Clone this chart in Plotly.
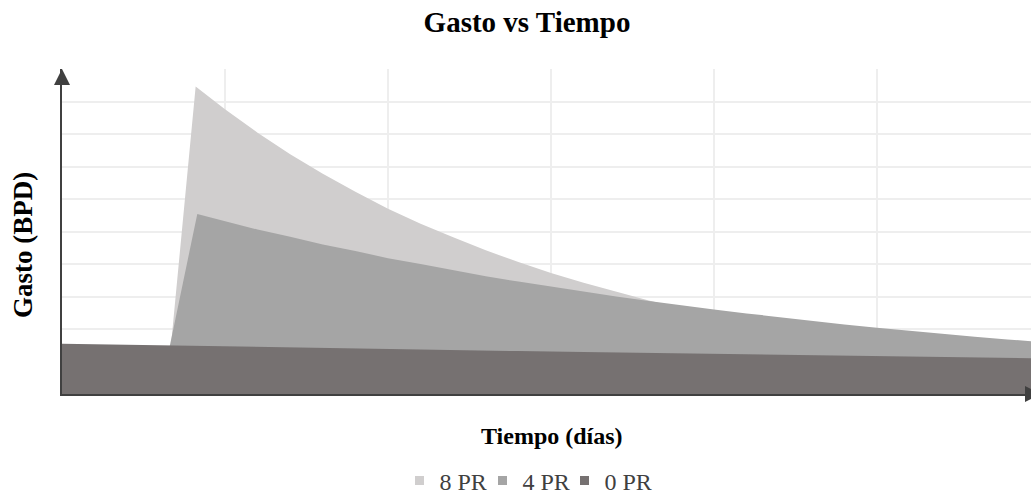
import plotly.graph_objects as go

# =========================
# DATA
# =========================

series = ["8 PR", "4 PR", "0 PR"]

dias_8pr = [0, 6.4, 8.2, 10, 12, 14, 16, 18, 20, 22, 24, 26, 28, 30, 32, 34,
            36, 38, 40, 42, 44, 46, 48, 50, 52, 54, 56, 58, 59.45]
gasto_8pr = [0, 0, 473, 438, 402, 369, 339, 311, 285, 262, 241, 221, 203, 186,
             171, 157, 144, 132, 121, 111, 102, 94, 86, 79, 73, 67, 61, 56, 53]

dias_4pr = [0, 6.0, 8.3, 10, 12, 14, 16, 18, 20, 22, 24, 26, 28, 30, 32, 34,
            36, 38, 40, 42, 44, 46, 48, 50, 52, 54, 56, 58, 59.45]
gasto_4pr = [0, 0, 277, 266, 253, 242, 230, 220, 209, 200, 190, 181, 173, 165,
             157, 150, 143, 136, 130, 124, 118, 112, 107, 102, 97, 93, 88, 84, 81]

dias_0pr = [0, 4, 8, 12, 16, 20, 24, 28, 32, 36, 40, 44, 48, 52, 56, 59.45]
gasto_0pr = [77.5, 75.7, 74.0, 72.3, 70.7, 69.1, 67.5, 66.0, 64.5, 63.0, 61.6,
             60.2, 58.8, 57.5, 56.2, 55.0]

colors = ["#d0cece", "#a5a5a5", "#767171"]

W, H = 1031, 496
L, R, T, B = 62, 0, 69, 102
PW, PH = W - L - R, H - T - B

fig = go.Figure()

# =========================
# AREAS
# =========================

for name, xs, ys, c in zip(series,
                           [dias_8pr, dias_4pr, dias_0pr],
                           [gasto_8pr, gasto_4pr, gasto_0pr],
                           colors):
    fig.add_trace(
        go.Scatter(
            x=xs, y=ys,
            mode="lines",
            fill="tozeroy",
            fillcolor=c,
            line=dict(width=0, color=c),
            hoverinfo="skip",
            showlegend=False
        )
    )

# legend entries (small squares), one legend box each
legend_ids = ["legend", "legend2", "legend3"]
for name, c, lg in zip(series, colors, legend_ids):
    fig.add_trace(
        go.Scatter(
            x=[None], y=[None],
            mode="markers",
            marker=dict(symbol="square", size=9, color=c),
            name=name,
            legend=lg
        )
    )

# =========================
# AXIS ARROWS
# =========================

def px_x(p):
    return (p - L) / PW

def px_y(p):
    return (H - B - p) / PH

shapes = [
    # arrow on y axis (top)
    dict(type="path", xref="paper", yref="paper",
         path=f"M {-8/PW},{1-16/PH} L {8/PW},{1-16/PH} L 0,1 Z",
         fillcolor="#404040", line=dict(width=0)),
    # arrow on x axis (right)
    dict(type="path", xref="paper", yref="paper",
         path=f"M {1-6/PW},{-8/PH} L {1-6/PW},{8/PH} L {1+10/PW},0 Z",
         fillcolor="#404040", line=dict(width=0)),
]

def legend_box(icon_center):
    return dict(
        orientation="h",
        x=(icon_center - 23) / W, xref="container", xanchor="left",
        y=1 - 481 / H, yref="container", yanchor="middle",
        font=dict(size=24, family="Liberation Serif", color="#404040"),
        itemwidth=30,
        bgcolor="rgba(0,0,0,0)"
    )

# =========================
# LAYOUT
# =========================

fig.update_layout(
    width=W, height=H,
    margin=dict(l=L, r=R, t=T, b=B),
    plot_bgcolor="white",
    paper_bgcolor="white",
    font=dict(family="Liberation Serif", color="black"),
    title=dict(
        text="<b>Gasto vs Tiempo</b>",
        font=dict(size=29, family="Liberation Serif", color="black"),
        x=527 / W, xanchor="center",
        y=1 - 22 / H, yanchor="middle"
    ),
    xaxis=dict(
        range=[0, 59.45], dtick=10,
        showticklabels=False, ticks="",
        showgrid=True, gridcolor="#eeeeee", gridwidth=2,
        zeroline=False,
        showline=True, linecolor="#404040", linewidth=2
    ),
    yaxis=dict(
        range=[0, 500], dtick=50,
        showticklabels=False, ticks="",
        showgrid=True, gridcolor="#eeeeee", gridwidth=2,
        zeroline=False,
        showline=True, linecolor="#404040", linewidth=2
    ),
    legend=legend_box(422.5),
    legend2=legend_box(505.5),
    legend3=legend_box(587.5),
    shapes=shapes,
    annotations=[
        dict(text="<b>Tiempo (días)</b>", xref="paper", yref="paper",
             x=px_x(552), y=px_y(436),
             xanchor="center", yanchor="middle", showarrow=False,
             font=dict(size=24, family="Liberation Serif", color="black")),
        dict(text="<b>Gasto (BPD)</b>", xref="paper", yref="paper",
             x=px_x(23), y=px_y(245), textangle=-90,
             xanchor="center", yanchor="middle", showarrow=False,
             font=dict(size=27, family="Liberation Serif", color="black")),
    ]
)

fig.write_html("out.html", config={"displayModeBar": False},
               post_script="document.body.style.margin='0';")
